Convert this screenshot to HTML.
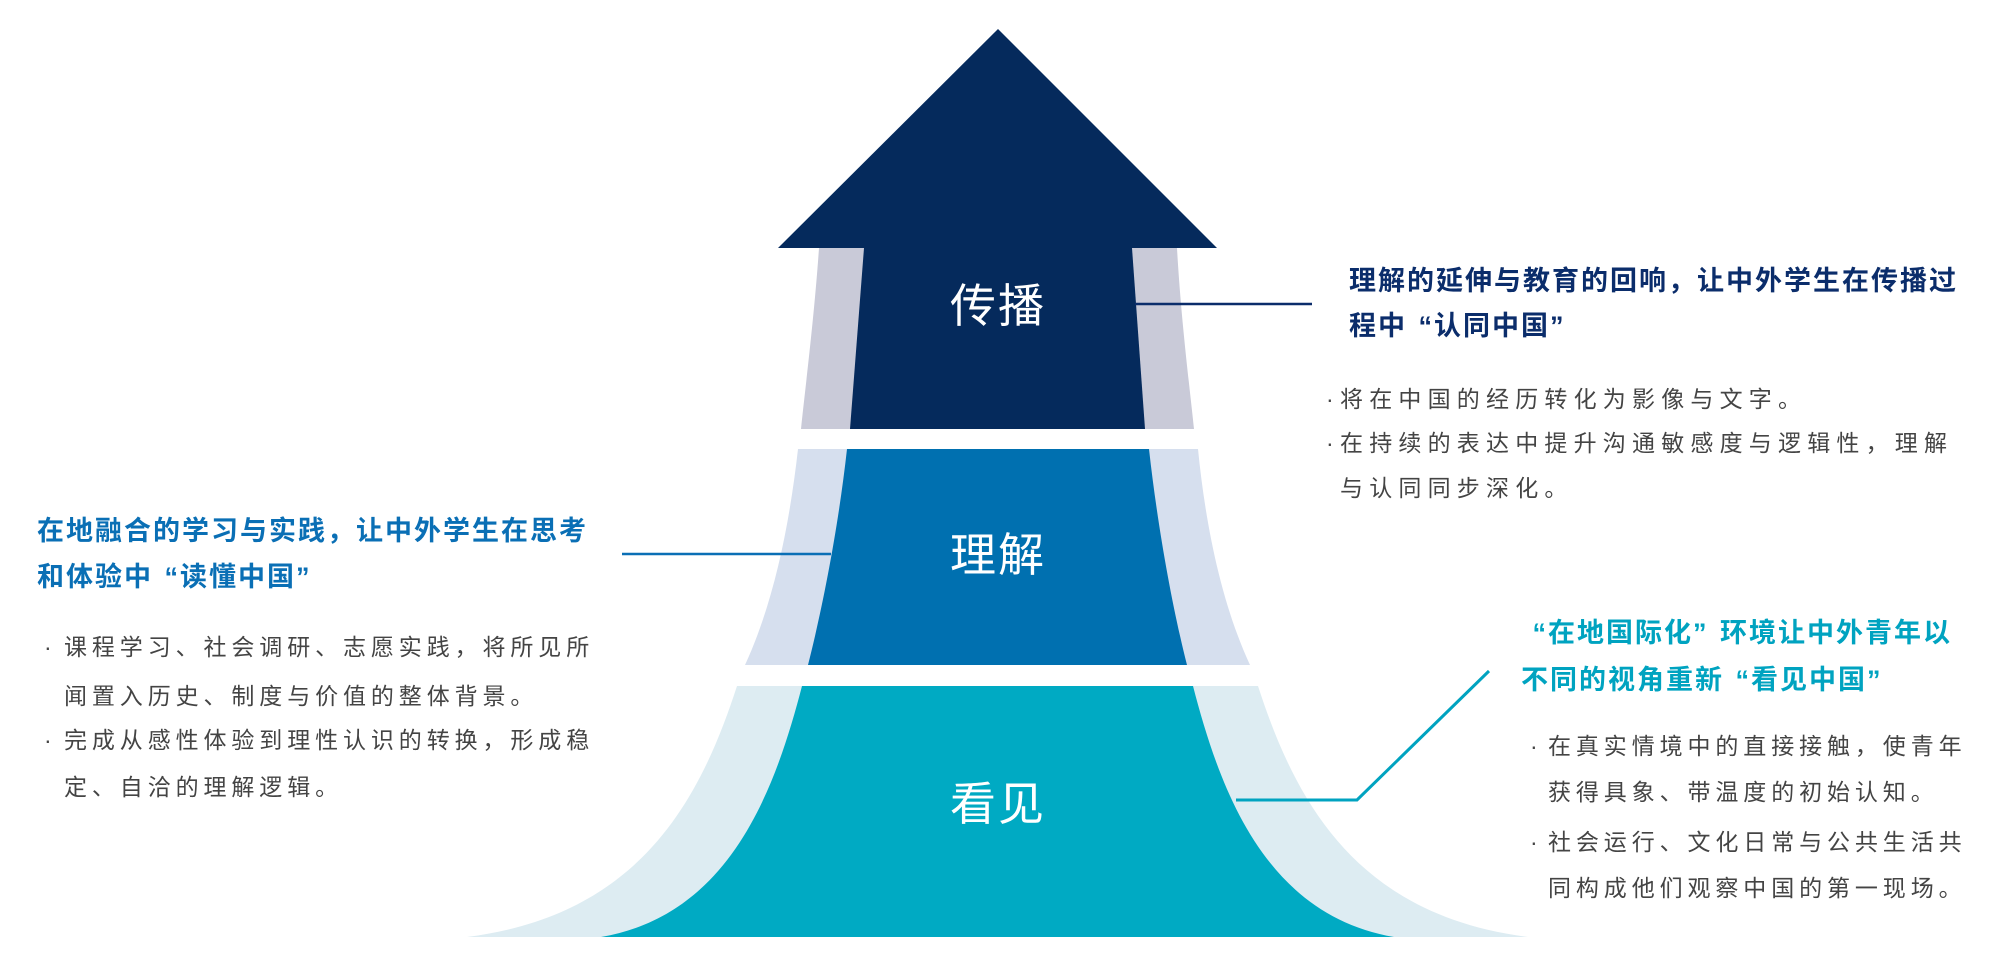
<!DOCTYPE html>
<html><head><meta charset="utf-8"><style>
html,body{margin:0;padding:0;background:#fff;}
body{width:2000px;height:959px;position:relative;overflow:hidden;font-family:"Liberation Sans","Noto Sans CJK SC",sans-serif;}
.t{position:absolute;white-space:nowrap;line-height:36px;height:36px;}
.h{font-size:27px;font-weight:bold;letter-spacing:2px;}
.b{font-size:23px;letter-spacing:6.2px;color:#444;}
.bl{letter-spacing:4.9px;}
.br{letter-spacing:4.9px;}
.n{color:#0b2d6b}.l{color:#0a6fb5}.c{color:#00a3c0}
.qo{display:inline-block;width:27px;text-align:right;}
.qc{display:inline-block;width:27px;text-align:left;}
.lab{position:absolute;color:#fff;font-size:46px;width:200px;text-align:center;line-height:56px;letter-spacing:2px;}
</style></head><body>
<svg width="2000" height="959" style="position:absolute;left:0;top:0">
<path d="M819,248 C814,320 805,390 801,429 L1194,429 C1190,390 1181,320 1177,248 Z" fill="#c9cad8"/>
<path d="M864,248 L850,429 L1145,429 L1132,248 Z" fill="#052a5c"/>
<polygon points="998,29 778,248 1217,248" fill="#052a5c"/>
<path d="M798,449 C790,520 775,600 745,665 L1250,665 C1220,600 1205,520 1198,449 Z" fill="#d6dfee"/>
<path d="M847,449 C838,530 822,610 808,665 L1187,665 C1173,610 1158,530 1149,449 Z" fill="#0070b0"/>
<path d="M737,686 C700,800 640,915 467,937 L1528,937 C1355,915 1295,800 1258,686 Z" fill="#ddecf2"/>
<path d="M802,686 C775,790 730,915 601,937 L1394,937 C1265,915 1220,790 1193,686 Z" fill="#00aac3"/>
<line x1="1135" y1="304" x2="1312" y2="304" stroke="#0b2d6b" stroke-width="2.5"/>
<line x1="622" y1="554" x2="831" y2="554" stroke="#0a6fb5" stroke-width="2.5"/>
<polyline points="1236,800 1357,800 1489,671" fill="none" stroke="#00a3c0" stroke-width="3"/>
</svg>
<div class="lab" style="left:898px;top:278px">传播</div>
<div class="lab" style="left:898px;top:527px">理解</div>
<div class="lab" style="left:898px;top:776px">看见</div>

<div class="t h n" style="left:1349px;top:263px">理解的延伸与教育的回响，让中外学生在传播过</div>
<div class="t h n" style="left:1349px;top:308px">程中<span class="qo">“</span>认同中国<span class="qc">”</span></div>
<div class="t b" style="left:1326px;top:381px">·</div>
<div class="t b" style="left:1340px;top:381px">将在中国的经历转化为影像与文字。</div>
<div class="t b" style="left:1326px;top:425px">·</div>
<div class="t b" style="left:1340px;top:425px">在持续的表达中提升沟通敏感度与逻辑性，理解</div>
<div class="t b" style="left:1340px;top:470px">与认同同步深化。</div>

<div class="t h l" style="left:37px;top:513px">在地融合的学习与实践，让中外学生在思考</div>
<div class="t h l" style="left:37px;top:559px">和体验中<span class="qo">“</span>读懂中国<span class="qc">”</span></div>
<div class="t b" style="left:44px;top:629px">·</div>
<div class="t b bl" style="left:64px;top:629px">课程学习、社会调研、志愿实践，将所见所</div>
<div class="t b bl" style="left:64px;top:678px">闻置入历史、制度与价值的整体背景。</div>
<div class="t b" style="left:44px;top:722px">·</div>
<div class="t b bl" style="left:64px;top:722px">完成从感性体验到理性认识的转换，形成稳</div>
<div class="t b bl" style="left:64px;top:769px">定、自洽的理解逻辑。</div>

<div class="t h c" style="left:1521px;top:615px"><span class="qo">“</span>在地国际化<span class="qc">”</span>环境让中外青年以</div>
<div class="t h c" style="left:1521px;top:662px">不同的视角重新<span class="qo">“</span>看见中国<span class="qc">”</span></div>
<div class="t b" style="left:1530px;top:728px">·</div>
<div class="t b br" style="left:1548px;top:728px">在真实情境中的直接接触，使青年</div>
<div class="t b br" style="left:1548px;top:774px">获得具象、带温度的初始认知。</div>
<div class="t b" style="left:1530px;top:824px">·</div>
<div class="t b br" style="left:1548px;top:824px">社会运行、文化日常与公共生活共</div>
<div class="t b br" style="left:1548px;top:870px">同构成他们观察中国的第一现场。</div>
</body></html>
